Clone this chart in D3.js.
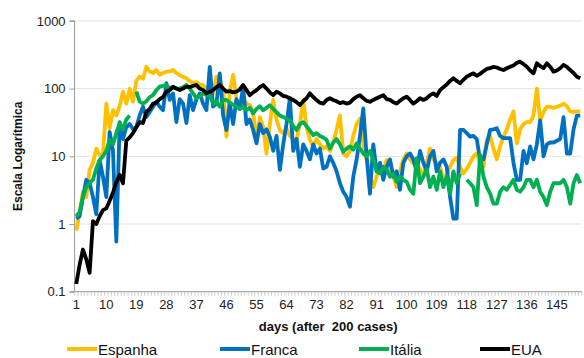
<!DOCTYPE html>
<html><head><meta charset="utf-8">
<script src="https://cdn.jsdelivr.net/npm/d3@7"></script>
<style>
html,body{margin:0;padding:0;background:#fff;}
svg{display:block;font-family:"Liberation Sans",Arial,sans-serif;}
</style></head>
<body><svg id="c" width="584" height="358"></svg>
<script>
const days = d3.range(1, 153);
const xTickLabels = [1,10,19,28,37,46,55,64,73,82,91,100,109,118,127,136,145];
const yTickLabels = ["0.1","1","10","100","1000"];
const seriesNames = ["Espanha","Franca","Itália","EUA"];

const espanha = [0.8,1.5,3.0,2.5,6.3,8,13,10.5,11,60,26,48,40,55,90,60,100,64,130,150,
140,210,180,170,188,160,170,178,180,188,170,158,150,142,130,120,125,115,113,100,
95,85,150,140,95,19.5,90,160,70,51,72,60,57,45,17.5,38,27,11,30,68,
35,24,22,26,20,18,17.5,30,68,27,17.5,14,18,15,13,14,12,16,25,40,
11,10,12,20,30,36,15,8.8,5,3.5,5,7,6.3,8.8,7,5,3.5,6,9,11,
9,7.9,8,6.5,5,8,13,9,8,7,4.5,5.5,7,8.8,9.5,7,5.6,6.5,8,10,
11,8,7,17.5,20,13,9,14,19.5,25,35,46,15.5,25,30,32,32,40,100,34,
45,54,54,52,54,56,60,55,46,45,46,46];

const franca = [1.2,1.3,2.5,4.5,4.0,2.5,1.4,8.8,5,2.5,23,12,0.55,32,18,27,30,25,27,40,
54,38,45,54,64,54,48,120,68,85,32,70,60,31,80,48,70,85,60,48,
210,54,60,168,40,24.5,60,30,70,50,107,30,35,24.5,15.5,30,22,25,19.5,12,
20,6.3,15,30,72,12,18,7,15,12,9,15,11,13,6.6,7,10,8,6,4,
3,2.5,1.8,5,9,20,51,10,2.8,15,6,8,4.5,7,9,5,6,3.2,8,10,
11,9,6,12,8,6,10,12,6,8,9,7,2.5,1.2,1.2,24.5,24.5,22,19.5,20,
18,8.8,9,15,24.5,25,26,20,18.5,18.5,18.5,8,4.5,4.5,12,7.9,14,9,15,34,
10,15,16,16,17,18,38,11,11,25,40,40];

const italia = [1.3,1.5,2.5,3.5,4.0,4.5,6.6,8.8,10,12,17.5,15,22,31,25,35,40,null,90,64,
60,65,75,80,95,107,110,113,100,105,100,100,105,113,100,85,72,78,85,80,
78,60,65,54,68,68,62,58,54,50,54,48,52,43,50,55,48,52,57,50,
45,40,38,36,34,28,24.5,30,32,28,24,20.6,22,20,19,17.5,13,16,18,15,
11.7,13,14,12.5,15.5,13,11,10,12,9,6,5.6,7,6.5,5,5.5,4.2,5,4.5,4.2,
3.2,2.8,9.4,4,5,6.5,3.5,5,3.2,6,3.5,5,2.8,6,4,5.6,null,4.5,4,3.5,
1.9,10.5,5,3.5,2.8,2.0,2.0,3,3.5,3.2,3.8,4.5,3.2,3,3.5,4.5,4.5,3.5,4.5,3,
2.5,1.9,3,4,4,4,4.5,3.5,2.0,4,5.3,4];

const eua = [0.13,0.25,0.42,0.3,0.19,1.1,1.0,1.3,1.6,1.7,2.2,2.9,4.2,5.3,4.0,17,19,22,27,32,
31,45,50,60,62,70,75,90,95,107,100,95,100,107,105,110,113,100,95,85,
90,95,105,113,100,90,92,88,90,97,113,95,80,88,95,105,113,100,88,80,
90,85,78,76,72,68,63,57,65,72,85,75,68,62,60,68,72,68,65,61,
63,60,62,70,76,80,72,66,64,68,72,76,80,70,68,63,60,66,72,76,
68,60,65,72,68,72,80,85,78,95,105,115,130,142,130,120,135,150,160,168,
155,165,180,195,200,210,205,195,188,200,210,220,240,250,230,210,185,168,237,215,
200,237,210,178,185,200,225,210,188,170,150,142];

const colors = ["#FFC000","#0070C0","#00B050","#000000"];
const seriesData = [espanha, franca, italia, eua];

const svg = d3.select("#c");
const pLeft = 74.6, pRight = 581.9, pTop = 20.9, pBottom = 291.7;

const x = d3.scaleBand().domain(days).range([pLeft, pRight]).padding(0);
const y = d3.scaleLog().domain([0.1, 1000]).range([pBottom, pTop]);

// gridlines
svg.append("g").selectAll("line").data([1,10,100,1000]).join("line")
  .attr("x1", pLeft).attr("x2", pRight)
  .attr("y1", d => y(d)).attr("y2", d => y(d))
  .attr("stroke", "#e3e3e3").attr("stroke-width", 1);

// y axis
const yAxis = d3.axisLeft(y).tickValues([0.1,1,10,100,1000])
  .tickFormat((d,i) => yTickLabels[i]).tickSize(5).tickPadding(4);
const gy = svg.append("g").attr("transform", `translate(${pLeft},0)`).call(yAxis);
gy.select(".domain").attr("stroke", "#999").attr("d", `M-5,${pTop}H0V${pBottom}H-5`);
gy.selectAll(".tick line").attr("stroke", "#999");
gy.selectAll(".tick text").attr("font-size", 13).attr("fill", "#222")
  .attr("font-family", "Liberation Sans, Arial, sans-serif");

// x axis line + minor ticks
const gx = svg.append("g");
gx.append("line").attr("x1", pLeft).attr("x2", pRight).attr("y1", pBottom).attr("y2", pBottom)
  .attr("stroke", "#999");
gx.selectAll("line.mt").data(days.concat([153])).join("line").attr("class","mt")
  .attr("x1", d => d <= 152 ? x(d) : pRight).attr("x2", d => d <= 152 ? x(d) : pRight)
  .attr("y1", pBottom).attr("y2", pBottom + 4).attr("stroke", "#aaa").attr("stroke-width", 0.6);
gx.selectAll("text").data(xTickLabels).join("text")
  .attr("x", d => x(d) + x.bandwidth()/2).attr("y", pBottom + 17)
  .attr("text-anchor", "middle").attr("font-size", 13).attr("fill", "#222")
  .text(d => d);

// lines
const line = d3.line()
  .defined(d => d.v != null)
  .x(d => x(d.day) + x.bandwidth()/2)
  .y(d => y(d.v));
seriesData.forEach((s, i) => {
  svg.append("path")
    .datum(s.map((v, j) => ({day: days[j], v})))
    .attr("fill", "none").attr("stroke", colors[i]).attr("stroke-width", 3.8)
    .attr("stroke-linejoin", "round")
    .attr("d", line);
});

// axis titles
svg.append("text").attr("x", (pLeft + pRight)/2).attr("y", 331)
  .attr("text-anchor", "middle").attr("font-size", 13).attr("font-weight", "bold")
  .attr("fill", "#111").style("white-space", "pre").text("days (after  200 cases)");
svg.append("text").attr("transform", `translate(22,${(pTop+pBottom)/2}) rotate(-90)`)
  .attr("text-anchor", "middle").attr("font-size", 12).attr("font-weight", "bold")
  .attr("fill", "#111").text("Escala Logarítmica");

// legend
const legX = [67, 220, 359, 480];
const lg = svg.append("g");
seriesNames.forEach((n, i) => {
  lg.append("line").attr("x1", legX[i]).attr("x2", legX[i] + 30)
    .attr("y1", 349).attr("y2", 349).attr("stroke", colors[i]).attr("stroke-width", 4);
  lg.append("text").attr("x", legX[i] + 31).attr("y", 355).attr("font-size", 15)
    .attr("fill", "#111").text(n);
});
</script></body></html>
